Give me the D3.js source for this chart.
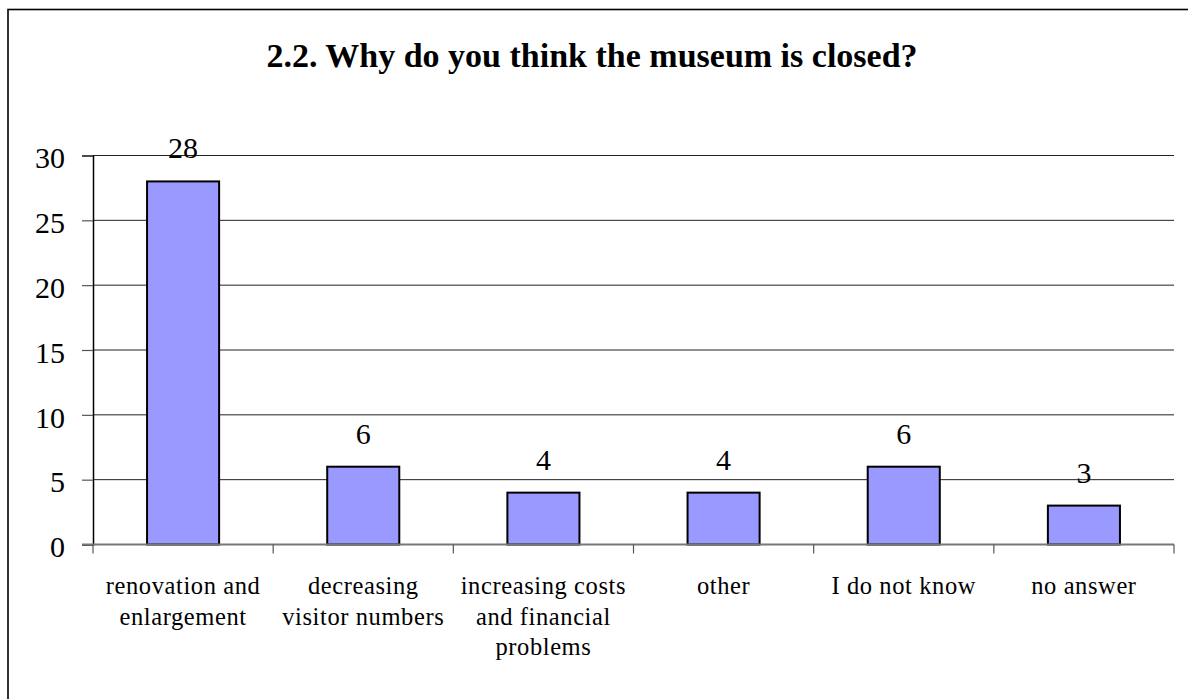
<!DOCTYPE html>
<html>
<head>
<meta charset="utf-8">
<script src="https://cdn.jsdelivr.net/npm/d3@7"></script>
<style>
  html, body { margin: 0; padding: 0; background: #fff; }
  svg { display: block; }
  text { font-family: "Liberation Serif", "Times New Roman", serif; fill: #000; }
</style>
</head>
<body>
<svg id="chart" width="1188" height="699"></svg>
<script>
// Survey answers: reasons given for the museum's closure
const categories = [
  ["renovation and", "enlargement"],
  ["decreasing", "visitor numbers"],
  ["increasing costs", "and financial", "problems"],
  ["other"],
  ["I do not know"],
  ["no answer"]
];
const counts = [28, 6, 4, 4, 6, 3];
const yTicks = [0, 5, 10, 15, 20, 25, 30];
const title = "2.2. Why do you think the museum is closed?";

const svg = d3.select("#chart");
const plot = { left: 93, right: 1174, top: 155.5, bottom: 544.5 };

// outer frame (runs off the right and bottom edges)
svg.append("rect")
  .attr("x", 8).attr("y", 9.5)
  .attr("width", 1200).attr("height", 720)
  .attr("fill", "none").attr("stroke", "#000").attr("stroke-width", 1.6);

svg.append("text")
  .attr("x", 592).attr("y", 67)
  .attr("text-anchor", "middle")
  .attr("font-size", 34).attr("font-weight", "bold")
  .text(title);

const ids = categories.map((d, i) => i);
const x = d3.scaleBand().domain(ids).range([plot.left, plot.right]).paddingInner(0).paddingOuter(0);
const y = d3.scaleLinear().domain([0, 30]).range([plot.bottom, plot.top]);

// horizontal gridlines
svg.append("g").selectAll("line")
  .data(yTicks.filter(t => t > 0))
  .join("line")
  .attr("x1", plot.left).attr("x2", plot.right)
  .attr("y1", d => y(d)).attr("y2", d => y(d))
  .attr("stroke", "#222").attr("stroke-width", 1);

// y axis
const yAxis = svg.append("g")
  .attr("transform", `translate(${plot.left},0)`)
  .call(d3.axisLeft(y).tickValues(yTicks).tickSize(11).tickPadding(17));
yAxis.select(".domain").attr("stroke", "#000").attr("stroke-width", 1.5);
yAxis.selectAll(".tick line").attr("stroke", "#555").attr("stroke-width", 1.2);
yAxis.selectAll(".tick text")
  .attr("font-size", 30).attr("font-family", "Liberation Serif, serif")
  .attr("dy", "0.41em");

// bars
const barW = x.bandwidth() * 0.4;
svg.append("g").selectAll("rect")
  .data(counts)
  .join("rect")
  .attr("x", (d, i) => x(i) + (x.bandwidth() - barW) / 2)
  .attr("y", d => y(d))
  .attr("width", barW)
  .attr("height", d => y(0) - y(d))
  .attr("fill", "#9999ff")
  .attr("stroke", "#000").attr("stroke-width", 2);

// x axis with category separators
const xg = svg.append("g");
xg.append("line")
  .attr("x1", plot.left - 11).attr("x2", plot.right)
  .attr("y1", y(0)).attr("y2", y(0))
  .attr("stroke", "#777").attr("stroke-width", 2);
xg.selectAll("line.sep")
  .data(d3.range(categories.length + 1))
  .join("line").attr("class", "sep")
  .attr("x1", i => i < categories.length ? x(i) : plot.right)
  .attr("x2", i => i < categories.length ? x(i) : plot.right)
  .attr("y1", y(0)).attr("y2", y(0) + 9)
  .attr("stroke", "#555").attr("stroke-width", 1.2);

// value labels
svg.append("g").selectAll("text")
  .data(counts)
  .join("text")
  .attr("x", (d, i) => x(i) + x.bandwidth() / 2)
  .attr("y", d => y(d) - 23)
  .attr("text-anchor", "middle")
  .attr("font-size", 30)
  .text(d => d);

// category labels (multi-line)
const cat = svg.append("g").selectAll("text")
  .data(categories)
  .join("text")
  .attr("x", (d, i) => x(i) + x.bandwidth() / 2)
  .attr("y", 594)
  .attr("text-anchor", "middle")
  .attr("font-size", 24.5)
  .attr("letter-spacing", 0.6);
cat.selectAll("tspan")
  .data(d => d)
  .join("tspan")
  .attr("x", function () { return this.parentNode.getAttribute("x"); })
  .attr("dy", (d, j) => j === 0 ? 0 : 30.5)
  .text(d => d);
</script>
</body>
</html>
